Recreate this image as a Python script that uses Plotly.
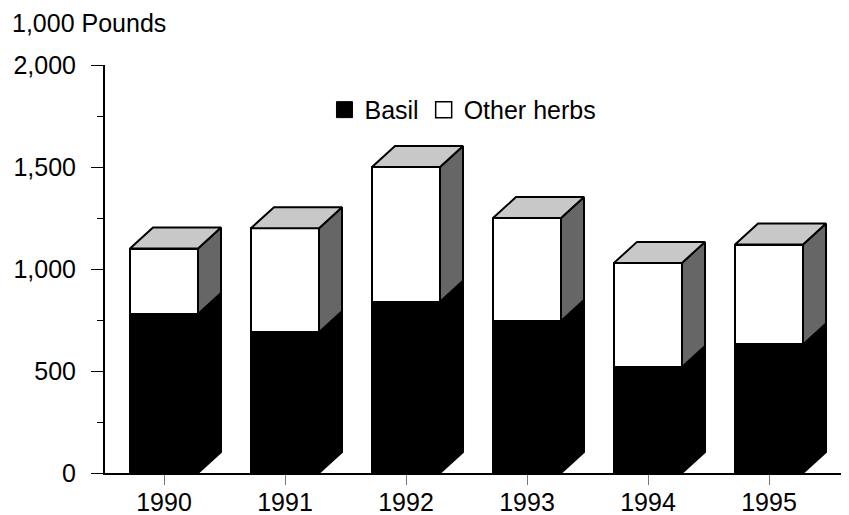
import plotly.graph_objects as go

years = ["1990", "1991", "1992", "1993", "1994", "1995"]
basil = [780, 690, 840, 745, 520, 630]
other_herbs = [320, 510, 660, 505, 510, 490]
y_ticks = [0, 500, 1000, 1500, 2000]

FONT = "Liberation Sans, Arial, sans-serif"
# page body has an 8px default margin; size the figure so it fills the 849x515 window
BODY = 8
W_PX, H_PX = 849 - BODY, 515 - BODY
L, R, T, B = 105 - BODY, 0, 65 - BODY, 42
XR = [-0.4876, 5.661]
YR = [0, 2000]
plot_w = W_PX - L - R
plot_h = H_PX - T - B
px_per_x = plot_w / (XR[1] - XR[0])
px_per_y = plot_h / (YR[1] - YR[0])

bar_w = 68 / px_per_x
dx = 23 / px_per_x
dy = 21 / px_per_y

xs = list(range(len(years)))
fig = go.Figure()

fig.add_trace(go.Bar(x=xs, y=basil, width=bar_w, marker=dict(color="black", line=dict(color="black", width=2)),
                     showlegend=False, hoverinfo="skip"))
fig.add_trace(go.Bar(x=xs, y=other_herbs, width=bar_w, marker=dict(color="white", line=dict(color="black", width=2)),
                     showlegend=False, hoverinfo="skip"))

for i, (b, o) in enumerate(zip(basil, other_herbs)):
    t = b + o
    x0 = i + bar_w / 2
    x1 = x0 + dx
    xl = i - bar_w / 2
    # basil side
    fig.add_trace(go.Scatter(x=[x0, x1, x1, x0, x0], y=[0, dy, b + dy, b, 0], fill="toself",
                             fillcolor="black", mode="lines", line=dict(color="black", width=2),
                             showlegend=False, hoverinfo="skip"))
    # other side
    fig.add_trace(go.Scatter(x=[x0, x1, x1, x0, x0], y=[b, b + dy, t + dy, t, b], fill="toself",
                             fillcolor="#666666", mode="lines", line=dict(color="black", width=2),
                             showlegend=False, hoverinfo="skip"))
    # top
    fig.add_trace(go.Scatter(x=[xl, xl + dx, x1, x0, xl], y=[t, t + dy, t + dy, t, t], fill="toself",
                             fillcolor="#c8c8c8", mode="lines", line=dict(color="black", width=2),
                             showlegend=False, hoverinfo="skip"))

# legend entries
fig.add_trace(go.Scatter(x=[None], y=[None], mode="markers", name="Basil",
                         marker=dict(symbol="square", size=16, color="black", line=dict(color="black", width=1))))
fig.add_trace(go.Scatter(x=[None], y=[None], mode="markers", name="Other herbs",
                         marker=dict(symbol="square", size=16, color="white", line=dict(color="black", width=1.5))))

fig.update_layout(
    width=W_PX, height=H_PX,
    margin=dict(l=L, r=R, t=T, b=B, pad=0, autoexpand=False),
    paper_bgcolor="white", plot_bgcolor="white",
    barmode="stack", bargap=0,
    font=dict(family=FONT, size=25, color="black"),
    showlegend=True,
    legend=dict(orientation="h", x=0.295, y=0.89, xanchor="left", yanchor="middle",
                traceorder="normal",
                font=dict(family=FONT, size=25, color="black"), bgcolor="rgba(0,0,0,0)",
                itemclick=False, tracegroupgap=0),
    xaxis=dict(range=XR, tickmode="array", tickvals=xs, ticktext=years, showline=True,
               linecolor="black", linewidth=2, ticks="outside", ticklen=10, tickcolor="#777777",
               tickwidth=1, showgrid=False, zeroline=False, fixedrange=True, automargin=False,
               ticklabelstandoff=-4,
               tickfont=dict(family=FONT, size=25, color="black")),
    yaxis=dict(range=YR, tickmode="array", tickvals=y_ticks, tickformat=",", showline=True,
               linecolor="black", linewidth=2, ticks="outside", ticklen=12, tickcolor="black",
               tickwidth=1, showgrid=False, zeroline=False, fixedrange=True, automargin=False,
               ticklabelstandoff=10,
               minor=dict(dtick=250, ticks="outside", ticklen=6, tickcolor="black", tickwidth=1, showgrid=False),
               tickfont=dict(family=FONT, size=25, color="black")),
    annotations=[dict(text="1,000 Pounds", xref="paper", yref="paper", x=-0.128, y=1.103,
                      xanchor="left", yanchor="middle", showarrow=False,
                      font=dict(family=FONT, size=25, color="black"))],
)

fig.write_html("out.html")
